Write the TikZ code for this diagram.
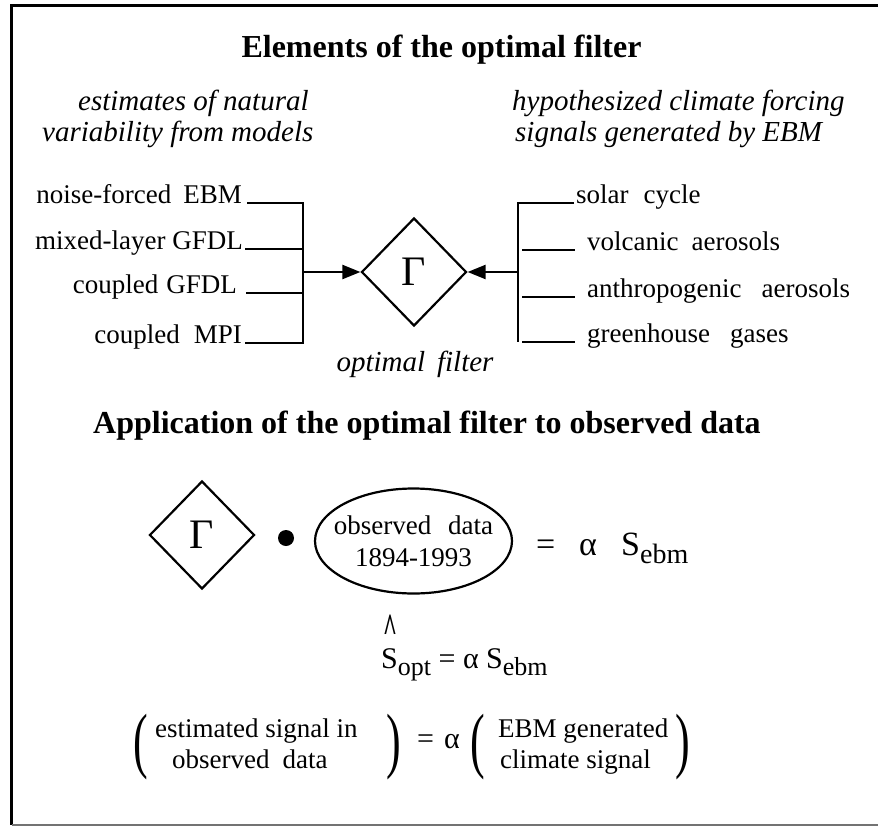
\documentclass[tikz,border=0pt]{standalone}
\usepackage{fontspec}
\usepackage{graphicx}
\setmainfont{Liberation Serif}
\usetikzlibrary{shapes.geometric,arrows.meta,calc}
\begin{document}
\begin{tikzpicture}[x=1pt,y=-1pt,
  lbl/.style={inner sep=0pt,font=\fontsize{27}{32}\selectfont},
  ital/.style={inner sep=0pt,font=\fontsize{29}{33}\selectfont\itshape},
  head/.style={inner sep=0pt,font=\fontsize{32}{36}\selectfont\bfseries},
  paren/.style={inner sep=0pt,font=\fontsize{44}{44}\selectfont,anchor=base west},
  conn/.style={line width=2.2pt},
  arr/.style={line width=2.2pt,-{Triangle[length=18pt,width=14pt]}},
  gdiam/.style={draw,diamond,line width=2.2pt,minimum width=105pt,minimum height=108pt,inner sep=0pt,font=\fontsize{42}{42}\selectfont},
  eqa/.style={inner sep=0pt,font=\fontsize{34}{34}\selectfont,anchor=base west},
  eqb/.style={inner sep=0pt,font=\fontsize{30}{30}\selectfont,anchor=base west},
]
\fill[white] (0,0) rectangle (878,827);
\useasboundingbox (0,0) rectangle (878,827);

% frame
\draw[line width=3pt] (878,5) -- (11.5,5) -- (11.5,825);
\draw[line width=1.6pt,black!55] (11.5,825) -- (878,825);

% headings
\node[head,anchor=base] (t1) at (441.5,57) {Elements of the optimal filter};
\node[ital,anchor=base west] (e1) at (78,110) {estimates of natural};
\node[ital,anchor=base west] (e2) at (42,141) {variability from models};
\node[ital,anchor=base west] (h1) at (512,110) {hypothesized climate forcing};
\node[ital,anchor=base west] (h2) at (515,141) {signals generated by EBM};

% left labels
\node[lbl,anchor=base east] (n1) at (242,203) {noise-forced\hspace{12pt}EBM};
\node[lbl,anchor=base east] (n2) at (243,249) {mixed-layer GFDL};
\node[lbl,anchor=base east] (n3) at (237,293) {coupled\hspace{8pt}GFDL};
\node[lbl,anchor=base east] (n4) at (242,343) {coupled\hspace{14pt}MPI};

% right labels
\node[lbl,anchor=base west] (r1) at (576,203) {solar\hspace{15pt}cycle};
\node[lbl,anchor=base west] (r2) at (587,250) {volcanic\hspace{13pt}aerosols};
\node[lbl,anchor=base west] (r3) at (587,297) {anthropogenic\hspace{20pt}aerosols};
\node[lbl,anchor=base west] (r4) at (587,342) {greenhouse\hspace{20pt}gases};

% filter diamond
\node[gdiam] (g1) at (414,272) {Γ};
\node[ital,anchor=base] (of) at (415,371) {optimal\hspace{12pt}filter};

% left bracket
\coordinate (Ltop) at (303,203);
\coordinate (Lbot) at (303,343);
\draw[conn] ($(n1.base east)+(5,0)$) -- (Ltop) -- (Lbot) -- ($(n4.base east)+(3,0)$);
\draw[conn] ($(n2.base east)+(2,0)$) -- (n2.base east -| Ltop);
\draw[conn] ($(n3.base east)+(9,0)$) -- (n3.base east -| Ltop);
\draw[arr] (g1.west -| Ltop) -- (g1.west);

% right bracket
\coordinate (Rtop) at (518,203);
\coordinate (Rbot) at (518,342);
\draw[conn] ($(r1.base west)+(-2,0)$) -- (Rtop) -- (Rbot);
\draw[conn] ($(r2.base west -| Rtop)+(4,0)$) -- ($(r2.base west)+(-12,0)$);
\draw[conn] ($(r3.base west -| Rtop)+(4,0)$) -- ($(r3.base west)+(-12,0)$);
\draw[conn] ($(r4.base west -| Rtop)+(4,0)$) -- ($(r4.base west)+(-12,0)$);
\draw[arr] (g1.east -| Rtop) -- (g1.east);

% application
\node[head,anchor=base west] (t2) at (93,433) {Application of the optimal filter to observed data};

\node[gdiam] (g2) at (202,535) {Γ};
\node[circle,fill,inner sep=0pt,minimum size=16pt] (dot) at (286,538) {};
\node[draw,ellipse,line width=2.2pt,minimum width=197pt,minimum height=105pt,inner sep=0pt] (obs) at (413.5,541) {};
\node[lbl,align=center] (obst) at (obs.center) {observed\hspace{17pt}data\\1894-1993};

\node[eqa] (eq1) at (536,555) {=};
\node[eqa] (al1) at (579,555) {α};
\node[eqa] (s1) at (621,555) {S\raisebox{-8pt}{\fontsize{28}{28}\selectfont ebm}};

% second equation (hat drawn in the same node as S)
\node[eqb] (s2) at (381,668) {\makebox[0pt][l]{\hspace{2.5pt}\raisebox{26pt}[0pt][0pt]{\bfseries\scalebox{0.8}[1.4]{\textasciicircum}}}S\raisebox{-7pt}{\fontsize{26}{26}\selectfont opt} = α S\raisebox{-7pt}{\fontsize{26}{26}\selectfont ebm}};

% third equation
\node[paren] (lp1) at (133,764) {\scalebox{1}[1.65]{(}};
\node[lbl,anchor=base west] (est1) at (155,737) {estimated signal in};
\node[lbl,anchor=base west] (est2) at (172,768) {observed\hspace{13pt}data};
\node[paren] (rp1) at (386,764) {\scalebox{1}[1.65]{)}};
\node[eqb] (eq3) at (417,748) {=};
\node[eqb] (al3) at (444,748) {α};
\node[paren] (lp2) at (470,764) {\scalebox{1}[1.65]{(}};
\node[lbl,anchor=base west] (ebm1) at (498,737) {EBM generated};
\node[lbl,anchor=base west] (ebm2) at (500,768) {climate signal};
\node[paren] (rp2) at (675,764) {\scalebox{1}[1.65]{)}};
\end{tikzpicture}
\end{document}
